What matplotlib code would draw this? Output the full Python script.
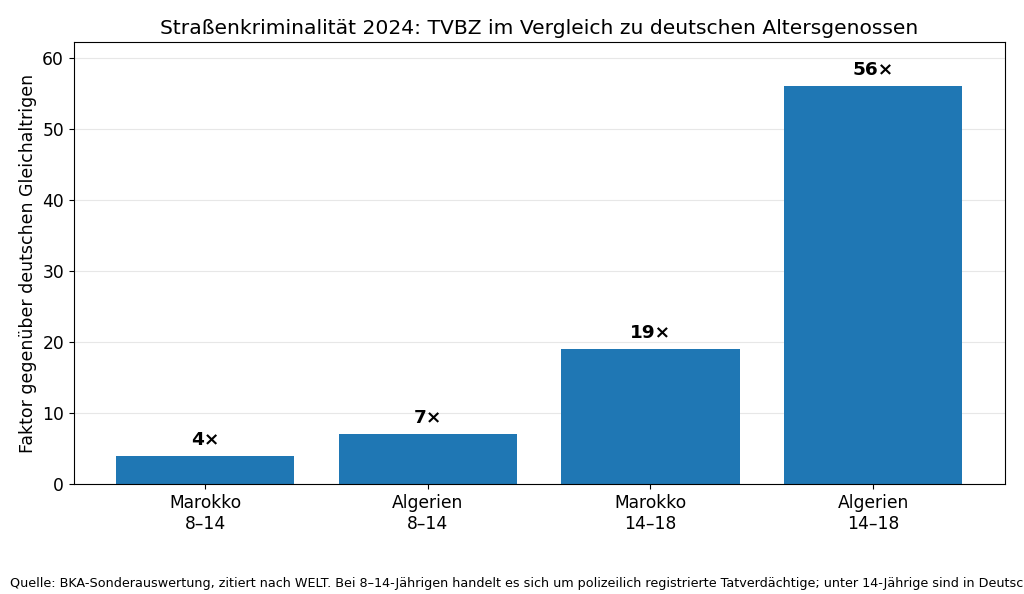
import matplotlib
matplotlib.use("Agg")
import matplotlib.pyplot as plt

# Data
categories = ["Marokko\n8–14", "Algerien\n8–14", "Marokko\n14–18", "Algerien\n14–18"]
factors = [4, 7, 19, 56]

title = "Straßenkriminalität 2024: TVBZ im Vergleich zu deutschen Altersgenossen"
ylabel = "Faktor gegenüber deutschen Gleichaltrigen"
source = ("Quelle: BKA-Sonderauswertung, zitiert nach WELT. Bei 8–14-Jährigen handelt es sich um "
          "polizeilich registrierte Tatverdächtige; unter 14-Jährige sind in Deutschland strafunmündig.")

fig, ax = plt.subplots(figsize=(10.24, 5.94), dpi=100)
fig.subplots_adjust(left=0.072, right=0.981, top=0.929, bottom=0.185)

bars = ax.bar(range(len(categories)), factors, width=0.8, color="#1f77b4", zorder=2)

for bar, val in zip(bars, factors):
    ax.annotate(f"{val}×",
                xy=(bar.get_x() + bar.get_width() / 2, bar.get_height()),
                xytext=(0, 5), textcoords="offset points",
                ha="center", va="bottom", fontsize=13.3, fontweight="bold")

ax.set_xticks(range(len(categories)))
ax.set_xticklabels(categories, fontsize=12.3)
ax.tick_params(axis="y", labelsize=12.3)
ax.set_ylim(0, max(factors) * 1.11)
ax.set_ylabel(ylabel, fontsize=12.5)
ax.set_title(title, fontsize=14.6)
ax.grid(axis="y", alpha=0.3, zorder=0)
ax.set_axisbelow(True)

fig.text(0.01, 0.006, source, fontsize=9.2, ha="left", va="bottom")

fig.savefig("out.png", dpi=100)
